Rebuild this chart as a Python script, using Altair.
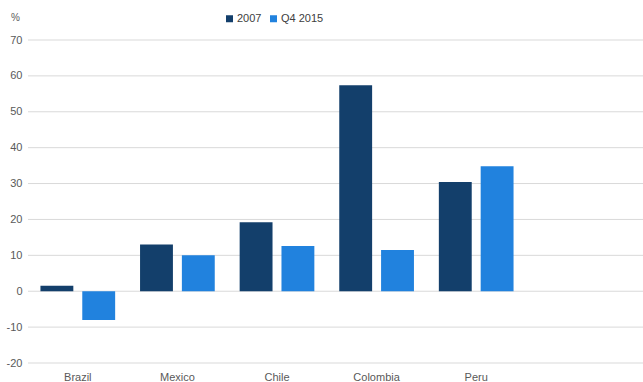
import altair as alt
import pandas as pd

countries = ["Brazil", "Mexico", "Chile", "Colombia", "Peru"]
series = ["2007", "Q4 2015"]
v2007 = [1.5, 13.0, 19.2, 57.4, 30.4]
vq4 = [-8.0, 10.0, 12.6, 11.5, 34.8]
yticks = [-20, -10, 0, 10, 20, 30, 40, 50, 60, 70]

rows = []
for c, a, b in zip(countries, v2007, vq4):
    rows.append({"country": c, "series": "2007", "value": a})
    rows.append({"country": c, "series": "Q4 2015", "value": b})
df = pd.DataFrame(rows)
grid_df = pd.DataFrame({"value": yticks})

font = "Liberation Sans"

yscale = alt.Scale(domain=[-20, 70], nice=False)
yaxis = alt.Axis(values=yticks, title="%", titleAngle=0,
                 titleX=-13, titleY=-18, titleAlign="center",
                 titleFontWeight="normal", titleFontSize=10, titleColor="#595959",
                 titleFont=font, grid=False, labelExpr="'' + datum.value",
                 ticks=False, domain=False, labelPadding=6, labelFontSize=11,
                 labelColor="#595959", labelFont=font)

grid = alt.Chart(grid_df).mark_rule(color="#d9d9d9", strokeWidth=1).encode(
    y=alt.Y("value:Q", scale=yscale, axis=yaxis),
    x=alt.value(0),
    x2=alt.value(615),
)

bars = alt.Chart(df).mark_bar().encode(
    x=alt.X("country:N", sort=countries,
            scale=alt.Scale(range=[0, 498], paddingInner=0.25, paddingOuter=0.125),
            axis=alt.Axis(title=None, labelAngle=0, ticks=False, domain=False,
                          labelPadding=8, labelFontSize=11, labelColor="#595959",
                          labelFont=font, grid=False)),
    xOffset=alt.XOffset("series:N", sort=series,
                        scale=alt.Scale(paddingInner=0.214, paddingOuter=0)),
    y=alt.Y("value:Q", scale=yscale, axis=yaxis),
    color=alt.Color("series:N", sort=series,
                    scale=alt.Scale(domain=series, range=["#133f6b", "#2182de"]),
                    legend=alt.Legend(title=None, orient="none", direction="horizontal",
                                      legendX=196, legendY=-27, symbolType="square",
                                      symbolSize=49, labelFontSize=11, labelFont=font,
                                      labelColor="#404040", columnPadding=6,
                                      labelOffset=2)),
)

chart = alt.layer(grid, bars).properties(
    width=615, height=323,
    background="white",
    padding={"left": 28, "top": 40, "right": 0, "bottom": 19},
    autosize=alt.AutoSizeParams(type="none"),
).configure_view(stroke=None).configure_axis(domain=False)

chart.save("out.html", embed_options={"renderer": "svg", "actions": False})
